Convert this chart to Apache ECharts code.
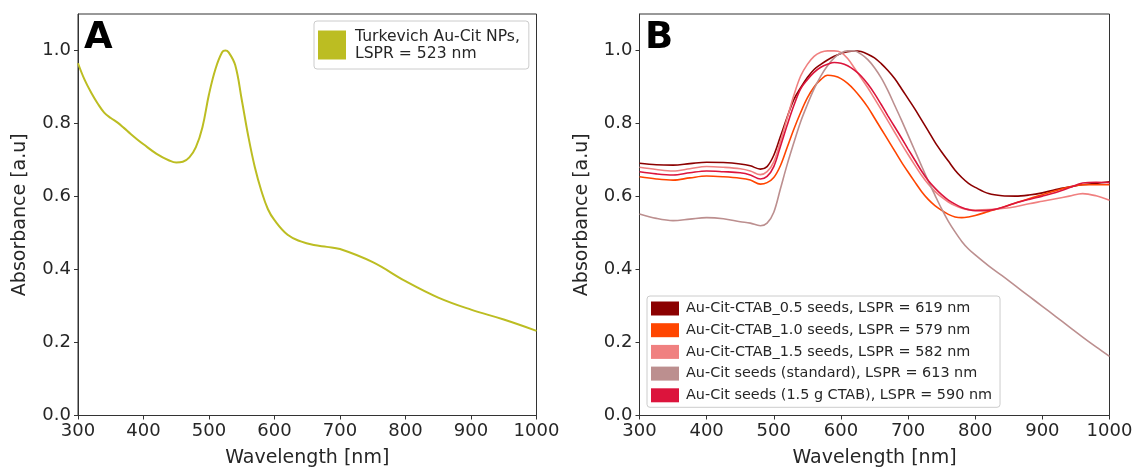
<!DOCTYPE html>
<html><head><meta charset="utf-8">
<script src="https://cdn.jsdelivr.net/npm/echarts@6/dist/echarts.min.js"></script>
<style>html,body{margin:0;padding:0;background:#fff}#c{width:1137px;height:468px}</style>
</head><body><div id="c"></div>
<script>
// ---------- DATA ----------
const xTicks = [300,400,500,600,700,800,900,1000];
const yTicks = [0,0.2,0.4,0.6,0.8,1.0];

// Panel A: Turkevich Au-Cit NPs
const wlA = [300,310,320,330,340,350,360,370,380,390,400,420,440,450,460,470,480,490,500,510,520,525,530,540,550,560,570,580,590,600,620,640,660,680,700,750,800,850,900,950,1000];
const absA = [0.965,0.92,0.885,0.855,0.83,0.815,0.803,0.788,0.772,0.757,0.743,0.717,0.698,0.693,0.695,0.707,0.735,0.79,0.88,0.95,0.995,1.0,0.995,0.96,0.865,0.765,0.68,0.615,0.565,0.535,0.495,0.477,0.467,0.462,0.456,0.42,0.368,0.323,0.29,0.263,0.232];
const nameA = 'Turkevich Au-Cit NPs,\nLSPR = 523 nm';

// Panel B: common wavelength grid
const wlB = [300,325,350,375,400,425,450,465,480,490,500,510,520,530,540,550,560,570,580,590,600,610,620,630,640,650,660,670,680,690,700,710,720,730,740,750,760,770,780,790,800,820,840,860,880,900,920,940,960,980,1000];
const absCTAB05 = [0.691,0.687,0.686,0.690,0.694,0.693,0.689,0.684,0.675,0.682,0.713,0.765,0.818,0.866,0.898,0.926,0.948,0.962,0.974,0.984,0.992,0.997,0.999,0.997,0.990,0.980,0.964,0.945,0.923,0.896,0.868,0.840,0.810,0.780,0.749,0.722,0.697,0.672,0.652,0.636,0.625,0.608,0.602,0.601,0.604,0.610,0.619,0.626,0.632,0.636,0.640];
const absCTAB10 = [0.654,0.648,0.645,0.651,0.656,0.654,0.650,0.645,0.634,0.638,0.652,0.685,0.735,0.785,0.830,0.870,0.900,0.920,0.932,0.930,0.923,0.910,0.892,0.870,0.845,0.815,0.785,0.755,0.725,0.695,0.667,0.640,0.614,0.592,0.575,0.562,0.551,0.544,0.542,0.544,0.548,0.559,0.570,0.582,0.594,0.605,0.616,0.626,0.632,0.632,0.632];
const absCTAB15 = [0.680,0.674,0.670,0.676,0.682,0.680,0.676,0.670,0.660,0.668,0.695,0.752,0.815,0.878,0.930,0.962,0.984,0.995,0.999,0.999,0.995,0.978,0.952,0.925,0.898,0.868,0.838,0.807,0.776,0.745,0.715,0.686,0.658,0.634,0.614,0.598,0.585,0.575,0.568,0.564,0.563,0.564,0.567,0.572,0.580,0.587,0.594,0.601,0.608,0.602,0.590];
const absStandard = [0.552,0.540,0.534,0.538,0.542,0.539,0.531,0.527,0.520,0.527,0.557,0.622,0.688,0.748,0.805,0.852,0.895,0.930,0.958,0.980,0.993,0.999,0.999,0.990,0.975,0.953,0.925,0.890,0.850,0.810,0.768,0.726,0.684,0.643,0.604,0.566,0.532,0.503,0.477,0.456,0.440,0.410,0.383,0.355,0.327,0.299,0.271,0.243,0.215,0.188,0.162];
const absSeedsCTAB = [0.668,0.662,0.659,0.665,0.670,0.668,0.665,0.659,0.648,0.655,0.682,0.738,0.796,0.850,0.895,0.920,0.940,0.954,0.962,0.967,0.965,0.958,0.946,0.930,0.908,0.882,0.852,0.821,0.791,0.761,0.730,0.700,0.670,0.644,0.623,0.605,0.590,0.579,0.570,0.564,0.561,0.562,0.570,0.582,0.592,0.601,0.611,0.624,0.637,0.639,0.638];
const namesB = ['Au-Cit-CTAB_0.5 seeds, LSPR = 619 nm','Au-Cit-CTAB_1.0 seeds, LSPR = 579 nm','Au-Cit-CTAB_1.5 seeds, LSPR = 582 nm','Au-Cit seeds (standard), LSPR = 613 nm','Au-Cit seeds (1.5 g CTAB), LSPR = 590 nm'];
const valuesB = [absCTAB05, absCTAB10, absCTAB15, absStandard, absSeedsCTAB];
const colorsB = ['#8b0000','#ff4500','#f08080','#bc8f8f','#dc143c'];

// ---------- CHART ----------
const FONT = '"DejaVu Sans", sans-serif';
const TXT = '#262626';
const zip = (xs, ys) => xs.map((x, i) => [x, ys[i]]);

function xAx(gi){
  return {type:'value', gridIndex:gi, min:300, max:1000, interval:100,
    name:'Wavelength [nm]', nameLocation:'middle', nameGap:33,
    nameTextStyle:{fontFamily:FONT, fontSize:19, color:TXT},
    axisLine:{show:true, lineStyle:{color:'#333', width:1}},
    axisTick:{show:true, length:4, lineStyle:{color:'#333'}, customValues:xTicks},
    axisLabel:{fontFamily:FONT, fontSize:18, color:TXT, margin:7, customValues:xTicks,
      formatter: v => String(v)},
    splitLine:{show:false}};
}
function yAx(gi){
  return {type:'value', gridIndex:gi, min:0, max:1.1,
    name:'Absorbance [a.u]', nameLocation:'middle', nameGap:48, nameRotate:90,
    nameTextStyle:{fontFamily:FONT, fontSize:19, color:TXT},
    axisLine:{show:true, lineStyle:{color:'#333', width:1}},
    axisTick:{show:true, length:4, lineStyle:{color:'#333'}, customValues:yTicks},
    axisLabel:{fontFamily:FONT, fontSize:18, color:TXT, margin:7, customValues:yTicks,
      formatter: v => v.toFixed(1)},
    splitLine:{show:false}};
}

const series = [{
  type:'line', name:nameA, xAxisIndex:0, yAxisIndex:0, data:zip(wlA, absA),
  smooth:0.4, showSymbol:false, lineStyle:{color:'#bcbd22', width:2}, itemStyle:{color:'#bcbd22'}
}];
valuesB.forEach((vals, i) => {
  series.push({type:'line', name:namesB[i], xAxisIndex:1, yAxisIndex:1, data:zip(wlB, vals),
    smooth:0.35, showSymbol:false, lineStyle:{color:colorsB[i], width:1.6}, itemStyle:{color:colorsB[i]}});
});

const chart = echarts.init(document.getElementById('c'), null, {renderer:'canvas'});
chart.setOption({
  animation:false,
  backgroundColor:'#fff',
  grid:[
    {left:78, right:600.5, top:14, bottom:52.5, show:true, borderColor:'#333', borderWidth:1, containLabel:false, outerBoundsMode:'none'},
    {left:639.5, right:27.5, top:14, bottom:52.5, show:true, borderColor:'#333', borderWidth:1, containLabel:false, outerBoundsMode:'none'}
  ],
  xAxis:[xAx(0), xAx(1)],
  yAxis:[yAx(0), yAx(1)],
  legend:[
    {data:[nameA], left:314, top:21, orient:'vertical', icon:'rect', itemWidth:28, itemHeight:29,
     padding:[6,9,6,4], backgroundColor:'#fff', borderColor:'#ccc', borderWidth:1, borderRadius:3,
     selectedMode:false,
     textStyle:{fontFamily:FONT, fontSize:15.6, color:TXT, lineHeight:17, padding:[2,0,0,4]}},
    {data:namesB, left:647, top:296, orient:'vertical', icon:'rect', itemWidth:28, itemHeight:14,
     itemGap:7.7, padding:[5.5,8,5,4], backgroundColor:'#fff', borderColor:'#ccc', borderWidth:1, borderRadius:3,
     selectedMode:false,
     textStyle:{fontFamily:FONT, fontSize:14.4, color:TXT, padding:[0,0,0,2]}}
  ],
  graphic:[
    {type:'text', left:84, top:20, style:{text:'A', font:'bold 37px "DejaVu Sans"', fill:'#000'}},
    {type:'text', left:645, top:20, style:{text:'B', font:'bold 37px "DejaVu Sans"', fill:'#000'}}
  ],
  series: series
});
</script></body></html>
